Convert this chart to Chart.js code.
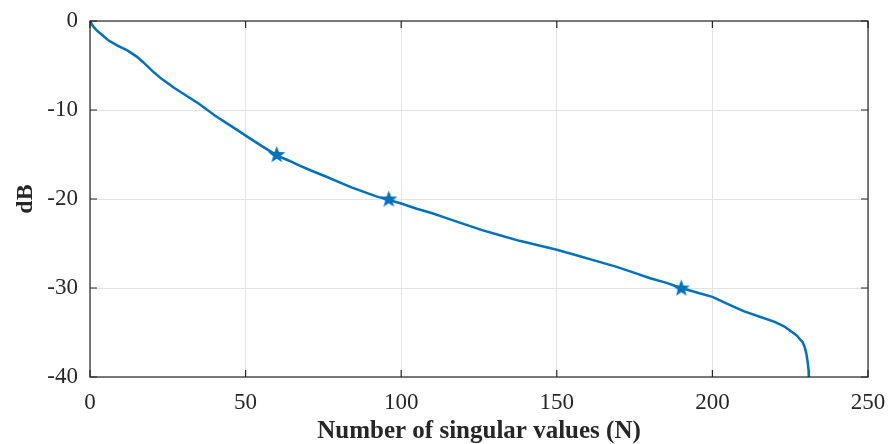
<!DOCTYPE html>
<html>
<head>
<meta charset="utf-8">
<script src="https://cdn.jsdelivr.net/npm/chart.js@4/dist/chart.umd.min.js"></script>
<style>
html,body{margin:0;padding:0;background:#fff;overflow:hidden;}
#wrap{width:892px;height:444px;position:relative;}
canvas{display:block;}
</style>
</head>
<body>
<div id="wrap"><canvas id="c"></canvas></div>
<script>
// Data
const curveX = [0, 1, 2, 4, 6, 9, 12, 15, 17, 20, 23, 27, 31, 35, 40, 44, 48, 51, 55, 60,
  64, 67, 71, 76, 80, 84, 88, 92, 96, 100, 105, 110, 115, 120, 126, 132, 138, 144, 150,
  156, 162, 169, 175, 180, 185, 190, 195, 200, 205, 210, 215, 220, 223, 225, 227, 228,
  229, 229.7, 230.2, 230.6, 230.9, 231];
const curveY = [0, -0.6, -1.0, -1.6, -2.2, -2.8, -3.3, -4.0, -4.6, -5.6, -6.5, -7.5, -8.4, -9.3, -10.6, -11.5, -12.4, -13.1, -14.0, -15.1,
  -15.7, -16.2, -16.8, -17.5, -18.1, -18.7, -19.2, -19.7, -20.1, -20.5, -21.1, -21.6, -22.2, -22.8, -23.5, -24.1, -24.7, -25.2, -25.7,
  -26.3, -26.9, -27.6, -28.3, -28.9, -29.4, -30.0, -30.5, -31.0, -31.8, -32.6, -33.2, -33.8, -34.3, -34.8, -35.3, -35.7,
  -36.1, -36.7, -37.4, -38.3, -39.2, -40];
const starX = [60, 96, 190];
const starY = [-15, -20, -30];
const xTicks = [0, 50, 100, 150, 200, 250];
const yTicks = [-40, -30, -20, -10, 0];
const xTitle = 'Number of singular values (N)';
const yTitle = 'dB';

const BLUE = '#0072BD';
const AXIS = '#262626';
const FONT = "'Liberation Serif', 'Times New Roman', serif";

function makeStar(size, color) {
  const cv = document.createElement('canvas');
  cv.width = size; cv.height = size;
  const g = cv.getContext('2d');
  const cx = size / 2, cy = size / 2 + 0.5, R = size / 2 - 0.5, r = R * 0.42;
  g.beginPath();
  for (let i = 0; i < 10; i++) {
    const a = -Math.PI / 2 + i * Math.PI / 5;
    const rr = i % 2 === 0 ? R : r;
    const px = cx + rr * Math.cos(a), py = cy + rr * Math.sin(a);
    if (i === 0) g.moveTo(px, py); else g.lineTo(px, py);
  }
  g.closePath();
  g.fillStyle = color;
  g.fill();
  return cv;
}
const starImg = makeStar(19, BLUE);

const boxPlugin = {
  id: 'boxPlugin',
  afterDatasetsDraw(chart) {
    const {ctx, chartArea: a, scales} = chart;
    ctx.save();
    ctx.strokeStyle = AXIS;
    ctx.lineWidth = 1.2;
    ctx.strokeRect(a.left, a.top, a.right - a.left, a.bottom - a.top);
    const L = 7;
    ctx.beginPath();
    xTicks.forEach(v => {
      const px = scales.x.getPixelForValue(v);
      ctx.moveTo(px, a.bottom); ctx.lineTo(px, a.bottom - L);
      ctx.moveTo(px, a.top); ctx.lineTo(px, a.top + L);
    });
    yTicks.forEach(v => {
      const py = scales.y.getPixelForValue(v);
      ctx.moveTo(a.left, py); ctx.lineTo(a.left + L, py);
      ctx.moveTo(a.right, py); ctx.lineTo(a.right - L, py);
    });
    ctx.stroke();
    ctx.restore();
  }
};

new Chart(document.getElementById('c'), {
  type: 'scatter',
  data: {
    datasets: [
      {
        data: curveX.map((x, i) => ({x: x, y: curveY[i]})),
        showLine: true,
        borderColor: BLUE,
        borderWidth: 2.5,
        pointRadius: 0,
        tension: 0,
        fill: false,
        order: 2
      },
      {
        data: starX.map((x, i) => ({x: x, y: starY[i]})),
        showLine: false,
        pointStyle: starImg,
        pointRadius: 9,
        order: 1
      }
    ]
  },
  options: {
    responsive: true,
    maintainAspectRatio: false,
    animation: false,
    events: [],
    layout: {padding: {top: 21, right: 24, left: 0, bottom: 0}},
    plugins: {legend: {display: false}, tooltip: {enabled: false}},
    scales: {
      x: {
        type: 'linear',
        min: 0, max: 250,
        afterBuildTicks(s) { s.ticks = xTicks.map(v => ({value: v})); },
        afterFit(s) { s.height = 67; s.paddingLeft = 0; s.paddingRight = 0; },
        grid: {color: '#e3e3e3', lineWidth: 1, drawTicks: false},
        border: {display: false},
        ticks: {color: AXIS, font: {family: FONT, size: 23}, padding: 12, maxRotation: 0},
        title: {display: true, text: xTitle, color: AXIS, font: {family: FONT, size: 25, weight: 'bold', lineHeight: 1.0}, padding: {top: 0, bottom: 0}}
      },
      y: {
        type: 'linear',
        min: -40, max: 0,
        afterBuildTicks(s) { s.ticks = yTicks.map(v => ({value: v})); },
        afterFit(s) { s.width = 90; s.paddingTop = 0; s.paddingBottom = 0; },
        grid: {color: '#e3e3e3', lineWidth: 1, drawTicks: false},
        border: {display: false},
        ticks: {color: AXIS, font: {family: FONT, size: 23}, padding: 12},
        title: {display: true, text: yTitle, color: AXIS, font: {family: FONT, size: 24, weight: 'bold'}, padding: {top: 11, bottom: 0}}
      }
    }
  },
  plugins: [boxPlugin]
});
</script>
</body>
</html>
